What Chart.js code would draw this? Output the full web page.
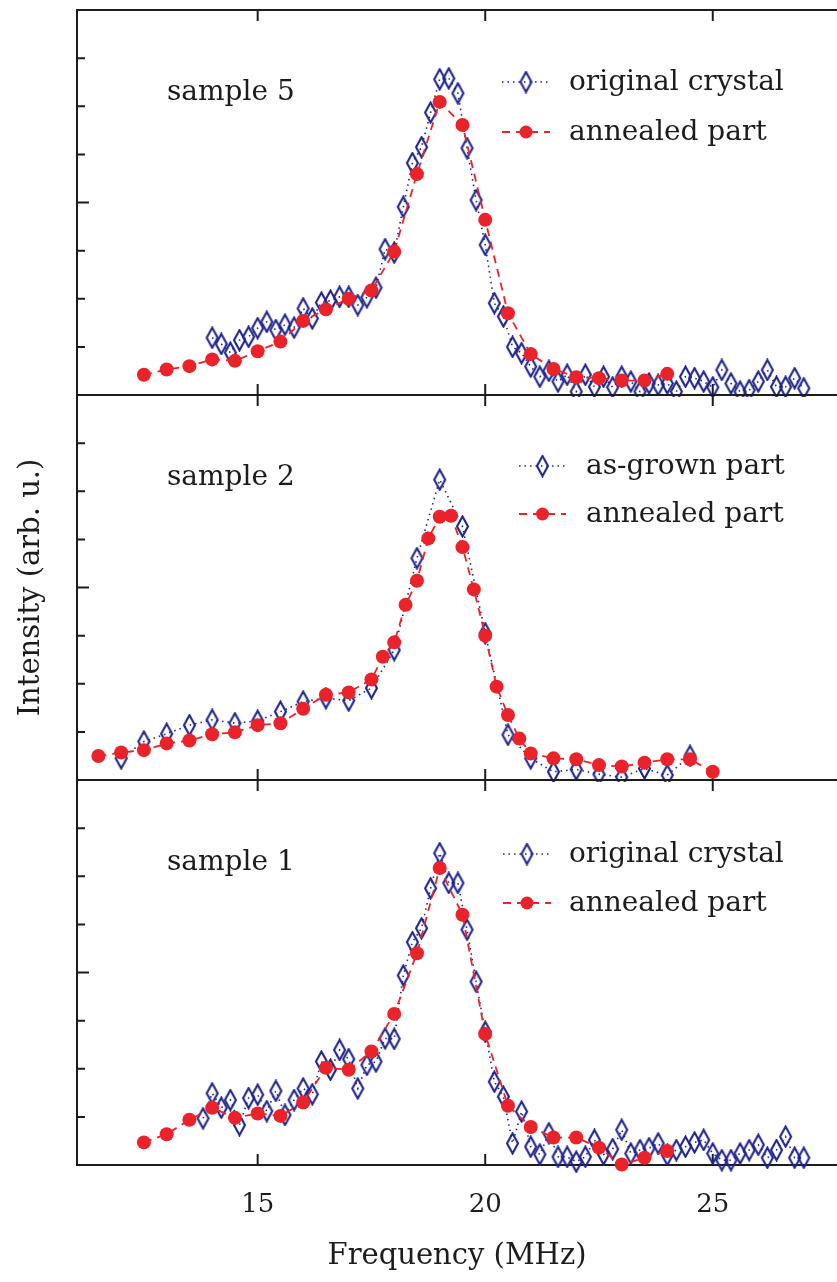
<!DOCTYPE html>
<html>
<head>
<meta charset="utf-8">
<script src="https://cdn.jsdelivr.net/npm/chart.js@4.4.1/dist/chart.umd.min.js"></script>
<style>
  html, body { margin: 0; padding: 0; background: #fff; }
  #wrap { position: relative; width: 837px; height: 1282px; overflow: hidden; }
  .panel { position: absolute; left: 0; width: 837px; }
</style>
</head>
<body>
<div id="wrap">
  <div class="panel" style="top:0;height:397px"><canvas id="c5"></canvas></div>
  <div class="panel" style="top:393px;height:389px"><canvas id="c2"></canvas></div>
  <div class="panel" style="top:778px;height:504px"><canvas id="c1"></canvas></div>
</div>
<script>
const INK = '#1c1c1c';
const BLUE = '#1f248c';
const RED = '#ea2229';
const FONT = "'DejaVu Serif', serif";

// sample 5
const s5OrigFreq = [14.0, 14.2, 14.4, 14.6, 14.8, 15.0, 15.2, 15.4, 15.6, 15.8, 16.0, 16.2, 16.4, 16.6, 16.8,
  17.0, 17.2, 17.4, 17.6, 17.8, 18.0, 18.2, 18.4, 18.6, 18.8, 19.0, 19.2, 19.4, 19.6, 19.8,
  20.0, 20.2, 20.4, 20.6, 20.8, 21.0, 21.2, 21.4, 21.6, 21.8, 22.0, 22.2, 22.4, 22.6, 22.8,
  23.0, 23.2, 23.4, 23.6, 23.8, 24.0, 24.2, 24.4, 24.6, 24.8, 25.0, 25.2, 25.4, 25.6, 25.8,
  26.0, 26.2, 26.4, 26.6, 26.8, 27.0];
const s5OrigInt = [1.19, 1.06, 0.88, 1.14, 1.21, 1.39, 1.52, 1.35, 1.46, 1.40, 1.80, 1.59, 1.92, 1.96, 2.04,
  2.04, 1.87, 2.03, 2.23, 3.03, 2.96, 3.91, 4.82, 5.15, 5.87, 6.56, 6.58, 6.27, 5.13, 4.05,
  3.12, 1.91, 1.63, 1.00, 0.87, 0.59, 0.38, 0.50, 0.28, 0.42, 0.07, 0.42, 0.17, 0.38, 0.16,
  0.38, 0.28, 0.07, 0.24, 0.21, 0.24, 0.07, 0.38, 0.35, 0.28, 0.16, 0.52, 0.24, 0.07, 0.10,
  0.28, 0.52, 0.17, 0.17, 0.35, 0.14];
const s5AnnFreq = [12.5, 13.0, 13.5, 14.0, 14.5, 15.0, 15.5, 16.0, 16.5, 17.0, 17.5, 18.0,
  18.5, 19.0, 19.5, 20.0, 20.5, 21.0, 21.5, 22.0, 22.5, 23.0, 23.5, 24.0];
const s5AnnInt = [0.42, 0.53, 0.60, 0.74, 0.71, 0.91, 1.11, 1.54, 1.78, 2.00, 2.17, 2.98,
  4.59, 6.09, 5.61, 3.64, 1.70, 0.85, 0.54, 0.37, 0.35, 0.30, 0.30, 0.44];

// sample 2
const s2GrownFreq = [12.0, 12.5, 13.0, 13.5, 14.0, 14.5, 15.0, 15.5, 16.0, 16.5, 17.0, 17.5, 18.0,
  18.5, 19.0, 19.5, 20.0, 20.5, 21.0, 21.5, 22.0, 22.5, 23.0, 23.5, 24.0, 24.5];
const s2GrownInt = [0.45, 0.80, 0.96, 1.14, 1.25, 1.18, 1.23, 1.42, 1.63, 1.70, 1.65, 1.91, 2.70,
  4.61, 6.24, 5.27, 3.05, 0.94, 0.45, 0.17, 0.22, 0.12, 0.06, 0.24, 0.10, 0.50];
const s2AnnFreq = [11.5, 12.0, 12.5, 13.0, 13.5, 14.0, 14.5, 15.0, 15.5, 16.0, 16.5, 17.0, 17.5,
  17.75, 18.0, 18.25, 18.5, 18.75, 19.0, 19.25, 19.5, 19.75, 20.0, 20.25, 20.5, 20.75, 21.0,
  21.5, 22.0, 22.5, 23.0, 23.5, 24.0, 24.5, 25.0];
const s2AnnInt = [0.50, 0.57, 0.62, 0.76, 0.82, 0.95, 0.99, 1.14, 1.18, 1.48, 1.77, 1.82, 2.09,
  2.56, 2.86, 3.64, 4.14, 5.02, 5.47, 5.49, 4.84, 3.96, 3.00, 1.94, 1.35, 0.86, 0.55,
  0.45, 0.43, 0.31, 0.28, 0.36, 0.43, 0.43, 0.17];

// sample 1
const s1OrigFreq = [13.8, 14.0, 14.2, 14.4, 14.6, 14.8, 15.0, 15.2, 15.4, 15.6, 15.8, 16.0, 16.2, 16.4, 16.6, 16.8,
  17.0, 17.2, 17.4, 17.6, 17.8, 18.0, 18.2, 18.4, 18.6, 18.8, 19.0, 19.2, 19.4, 19.6, 19.8,
  20.0, 20.2, 20.4, 20.6, 20.8, 21.0, 21.2, 21.4, 21.6, 21.8, 22.0, 22.2, 22.4, 22.6, 22.8,
  23.0, 23.2, 23.4, 23.6, 23.8, 24.0, 24.2, 24.4, 24.6, 24.8, 25.0, 25.2, 25.4, 25.6, 25.8,
  26.0, 26.2, 26.4, 26.6, 26.8, 27.0];
const s1OrigInt = [0.97, 1.49, 1.19, 1.35, 0.83, 1.39, 1.46, 1.12, 1.54, 1.04, 1.35, 1.59, 1.47, 2.15, 1.98, 2.39,
  2.20, 1.59, 2.08, 2.15, 2.63, 2.62, 3.94, 4.63, 4.92, 5.75, 6.48, 5.86, 5.86, 4.89, 3.81,
  2.77, 1.73, 1.42, 0.45, 1.11, 0.38, 0.22, 0.66, 0.17, 0.17, 0.07, 0.17, 0.52, 0.22, 0.33,
  0.73, 0.24, 0.31, 0.35, 0.45, 0.21, 0.31, 0.38, 0.47, 0.52, 0.24, 0.10, 0.10, 0.24, 0.31,
  0.42, 0.15, 0.31, 0.59, 0.15, 0.15];
const s1AnnFreq = [12.5, 13.0, 13.5, 14.0, 14.5, 15.0, 15.5, 16.0, 16.5, 17.0, 17.5, 18.0,
  18.5, 19.0, 19.5, 20.0, 20.5, 21.0, 21.5, 22.0, 22.5, 23.0, 23.5, 24.0];
const s1AnnInt = [0.47, 0.64, 0.94, 1.19, 0.98, 1.07, 1.02, 1.30, 2.02, 1.98, 2.36, 3.14,
  4.40, 6.17, 5.20, 2.72, 1.23, 0.79, 0.57, 0.57, 0.36, 0.01, 0.15, 0.29];

const xTickValues = [15, 20, 25];
const yTickValues = [1, 2, 3, 4, 5, 6, 7];
const yMajorTick = 4;
const X_MIN = 11.03, X_MAX = 27.73, Y_MIN = 0, Y_MAX = 8;

// hollow tall diamond marker
function diamondMarker(color) {
  const c = document.createElement('canvas');
  c.width = 15; c.height = 23;
  const g = c.getContext('2d');
  g.strokeStyle = color;
  g.lineWidth = 2.1;
  g.beginPath();
  g.moveTo(7.5, 1.5); g.lineTo(13, 11.5); g.lineTo(7.5, 21.5); g.lineTo(2, 11.5);
  g.closePath();
  g.stroke();
  return c;
}
const diamond = diamondMarker(BLUE);

const pts = (xs, ys) => xs.map((x, i) => ({ x, y: ys[i] }));

function annealedSet(label, xs, ys) {
  return {
    label, data: pts(xs, ys),
    borderColor: RED, borderWidth: 1.8, borderDash: [8, 6],
    pointStyle: 'circle', pointRadius: 7, pointBackgroundColor: RED, pointBorderWidth: 0,
    backgroundColor: RED, tension: 0, fill: false, clip: false
  };
}
function diamondSet(label, xs, ys) {
  return {
    label, data: pts(xs, ys),
    borderColor: BLUE, borderWidth: 1.6, borderDash: [1.5, 4],
    pointStyle: diamond, pointRadius: 8, pointBorderWidth: 0,
    backgroundColor: BLUE, tension: 0, fill: false, clip: false
  };
}

// frame with inward ticks, panel label and legend
const panelDecor = {
  id: 'panelDecor',
  beforeDatasetsDraw(chart) {
    const { ctx, chartArea: a, scales: { x, y } } = chart;
    ctx.save();
    ctx.strokeStyle = INK;
    ctx.lineWidth = 2;
    ctx.beginPath();
    ctx.moveTo(a.left, a.top); ctx.lineTo(a.right, a.top);
    ctx.moveTo(a.left, a.bottom); ctx.lineTo(a.right, a.bottom);
    ctx.moveTo(a.left, a.top - 1); ctx.lineTo(a.left, a.bottom + 1);
    yTickValues.forEach(v => {
      const py = y.getPixelForValue(v);
      ctx.moveTo(a.left, py); ctx.lineTo(a.left + (v === yMajorTick ? 12 : 8), py);
    });
    xTickValues.forEach(v => {
      const px = x.getPixelForValue(v);
      ctx.moveTo(px, a.top); ctx.lineTo(px, a.top + 11);
      ctx.moveTo(px, a.bottom); ctx.lineTo(px, a.bottom - 11);
    });
    ctx.stroke();
    ctx.restore();
  },
  afterDatasetsDraw(chart, args, opts) {
    const { ctx, chartArea: a } = chart;
    ctx.save();
    ctx.font = '28px ' + FONT;
    ctx.fillStyle = INK;
    ctx.textBaseline = 'alphabetic';
    ctx.fillText(opts.title, 167, a.top + 90);
    opts.rows.forEach((dsIndex, i) => {
      const ds = chart.data.datasets[dsIndex];
      const cy = a.top + opts.rowY[i];
      ctx.strokeStyle = ds.borderColor;
      ctx.lineWidth = ds.borderWidth;
      ctx.setLineDash(ds.borderDash);
      ctx.beginPath();
      ctx.moveTo(opts.lineX0, cy); ctx.lineTo(opts.lineX1, cy);
      ctx.stroke();
      ctx.setLineDash([]);
      const mx = (opts.lineX0 + opts.lineX1) / 2;
      if (ds.pointStyle instanceof HTMLCanvasElement) {
        ctx.drawImage(ds.pointStyle, mx - ds.pointStyle.width / 2, cy - ds.pointStyle.height / 2);
      } else {
        ctx.fillStyle = ds.pointBackgroundColor;
        ctx.beginPath();
        ctx.arc(mx, cy, 6.5, 0, Math.PI * 2);
        ctx.fill();
      }
      ctx.fillStyle = INK;
      ctx.fillText(ds.label, opts.textX, cy + 8);
    });
    ctx.restore();
  }
};

function makePanel(id, datasets, decor, opt) {
  const xScale = {
    type: 'linear', min: X_MIN, max: X_MAX, display: false
  };
  if (opt.showX) {
    Object.assign(xScale, {
      display: true,
      afterBuildTicks: s => { s.ticks = xTickValues.map(v => ({ value: v })); },
      afterFit: s => { s.height = 117; },
      grid: { display: false },
      border: { display: false },
      ticks: { font: { family: FONT, size: 26 }, color: INK, padding: 17, maxRotation: 0, autoSkip: false },
      title: { display: true, text: 'Frequency (MHz)', font: { family: FONT, size: 29 }, color: INK,
        padding: { top: 0, bottom: 8 } }
    });
  }
  const yScale = { type: 'linear', min: Y_MIN, max: Y_MAX, display: false };
  if (opt.showYTitle) {
    Object.assign(yScale, {
      display: true,
      afterFit: s => { s.width = 77; },
      ticks: { display: false },
      grid: { display: false },
      border: { display: false },
      title: { display: true, text: 'Intensity (arb. u.)', font: { family: FONT, size: 29 }, color: INK,
        padding: { top: 14, bottom: 0 } }
    });
  }
  return new Chart(document.getElementById(id), {
    type: 'line',
    data: { datasets },
    options: {
      responsive: true,
      maintainAspectRatio: false,
      animation: false,
      events: [],
      layout: { padding: opt.padding, autoPadding: false },
      scales: { x: xScale, y: yScale },
      plugins: { legend: { display: false }, tooltip: { enabled: false }, panelDecor: decor }
    },
    plugins: [panelDecor]
  });
}

makePanel('c5', [
  annealedSet('annealed part', s5AnnFreq, s5AnnInt),
  diamondSet('original crystal', s5OrigFreq, s5OrigInt)
], { title: 'sample 5', rows: [1, 0], rowY: [72, 122], lineX0: 502, lineX1: 550, textX: 569 },
{ padding: { left: 77, top: 10, right: 0, bottom: 2 } });

makePanel('c2', [
  annealedSet('annealed part', s2AnnFreq, s2AnnInt),
  diamondSet('as-grown part', s2GrownFreq, s2GrownInt)
], { title: 'sample 2', rows: [1, 0], rowY: [71, 119], lineX0: 519, lineX1: 566, textX: 586 },
{ showYTitle: true, padding: { left: 0, top: 2, right: 0, bottom: 2 } });

makePanel('c1', [
  annealedSet('annealed part', s1AnnFreq, s1AnnInt),
  diamondSet('original crystal', s1OrigFreq, s1OrigInt)
], { title: 'sample 1', rows: [1, 0], rowY: [74, 123], lineX0: 503, lineX1: 551, textX: 569 },
{ showX: true, padding: { left: 77, top: 2, right: 0, bottom: 0 } });
</script>
</body>
</html>
